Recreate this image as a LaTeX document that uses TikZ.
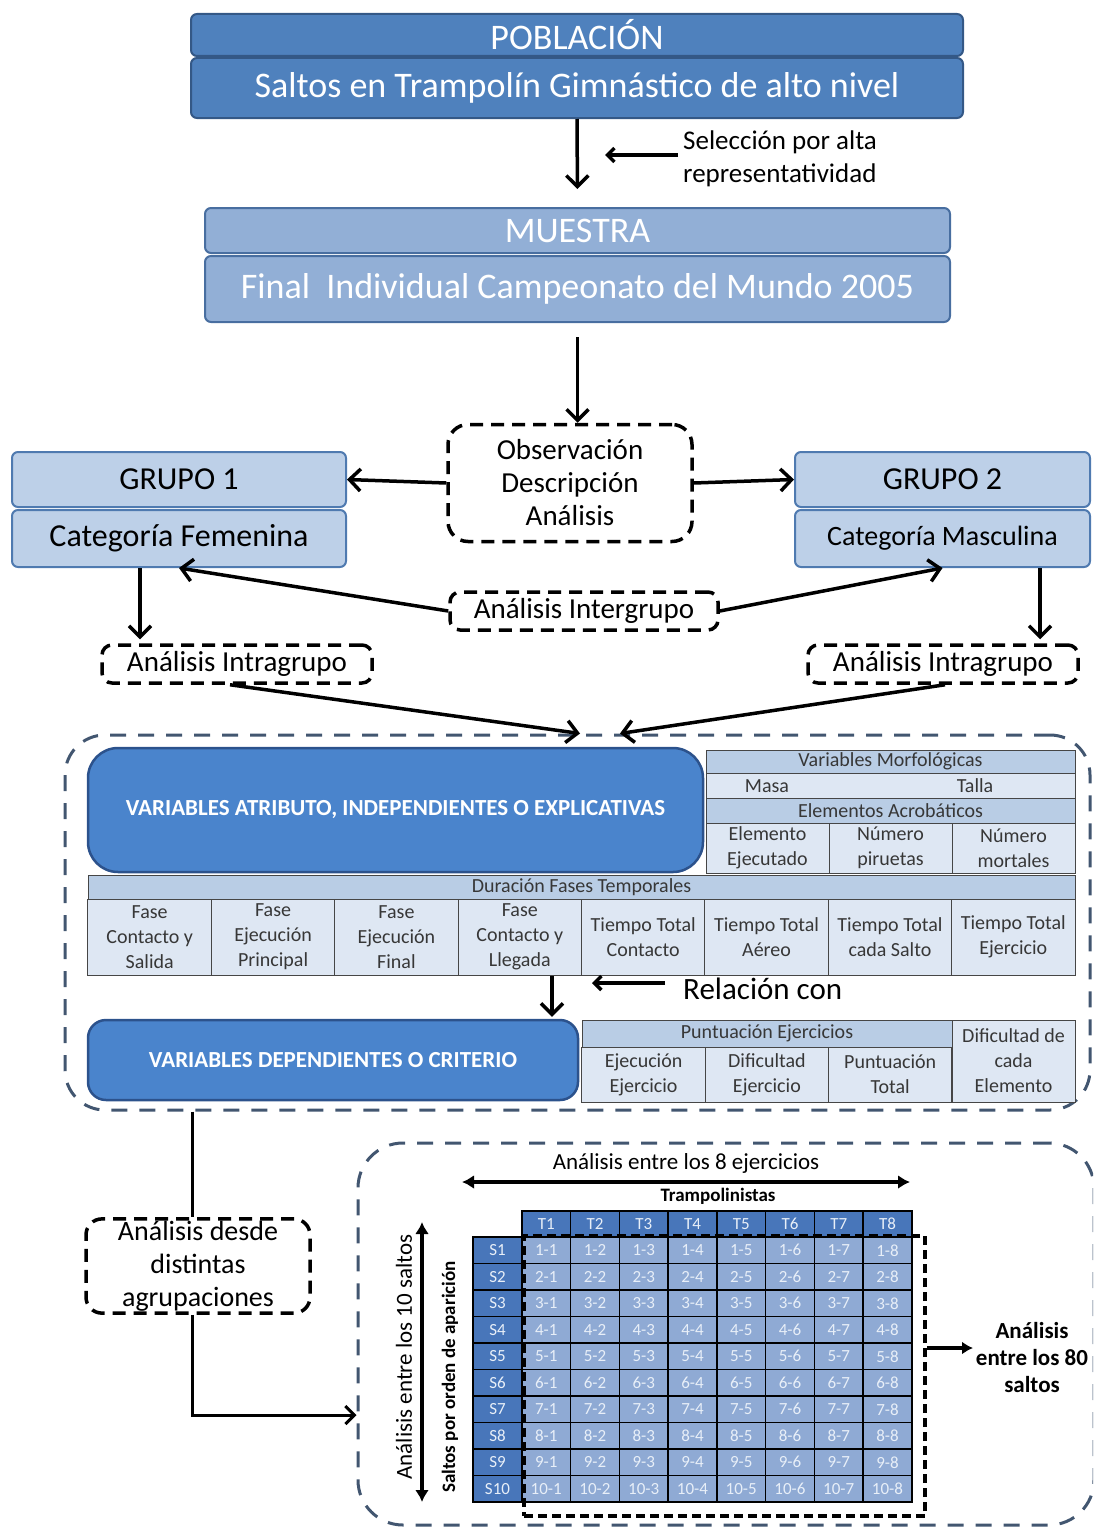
\documentclass[tikz,border=0pt]{standalone}
\usepackage{fontspec}
\setmainfont{Carlito}
\usetikzlibrary{arrows.meta}

\definecolor{popfill}{RGB}{79,129,189}
\definecolor{popedge}{RGB}{52,88,134}
\definecolor{muefill}{RGB}{146,175,214}
\definecolor{muedge}{RGB}{72,110,160}
\definecolor{grpfill}{RGB}{189,208,232}
\definecolor{grpedge}{RGB}{79,122,176}
\definecolor{varfill}{RGB}{74,132,204}
\definecolor{varedge}{RGB}{44,82,140}
\definecolor{headfill}{RGB}{185,205,229}
\definecolor{bodyfill}{RGB}{222,231,243}
\definecolor{tabline}{RGB}{70,70,70}
\definecolor{tabtext}{RGB}{55,55,55}
\definecolor{gridhead}{RGB}{72,118,186}
\definecolor{gridcell}{RGB}{143,170,212}
\definecolor{gridtext}{RGB}{232,239,248}
\definecolor{regline}{RGB}{66,86,112}

\tikzset{
  arr/.style={line width=3.5, -{Straight Barb[length=11pt,width=22pt]}},
  thinarr/.style={line width=3, -{Straight Barb[length=9pt,width=18pt]}},
  popbar/.style={draw=popedge, fill=popfill, line width=2, rounded corners=6,
    text=white, font=\fontsize{36}{40}\selectfont, minimum width=772, inner sep=2},
  muebar/.style={draw=muedge, fill=muefill, line width=2, rounded corners=6,
    text=white, font=\fontsize{36}{40}\selectfont, minimum width=745, inner sep=2},
  grpbar/.style={draw=grpedge, fill=grpfill, line width=2, rounded corners=6,
    text=black, font=\fontsize{32}{36}\selectfont, inner sep=2},
  dbox/.style={draw=black, line width=3.5, dash pattern=on 13pt off 8pt,
    rounded corners=10, font=\fontsize{29}{33}\selectfont, align=center, inner sep=2},
  region/.style={draw=regline, line width=3, dash pattern=on 16pt off 12pt, rounded corners=40},
  varbox/.style={draw=varedge, fill=varfill, line width=2.5, text=white,
    font=\bfseries\fontsize{23}{26}\selectfont},
  hcell/.style={draw=tabline, fill=headfill, line width=1, text=tabtext,
    font=\fontsize{20}{25}\selectfont, inner sep=1},
  tcell/.style={draw=tabline, fill=bodyfill, line width=1, text=tabtext,
    font=\fontsize{20}{25}\selectfont, align=center, inner sep=1, minimum width=123.4},
  thead/.style={draw=black, fill=gridhead, line width=1.5, text=gridtext,
    font=\fontsize{17}{18}\selectfont, minimum width=48.75, minimum height=26, inner sep=0},
  shead/.style={draw=black, fill=gridhead, line width=1.5, text=gridtext,
    font=\fontsize{17}{18}\selectfont, minimum width=49, minimum height=26.5, inner sep=0},
  gcell/.style={draw=black, fill=gridcell, line width=1.5, text=gridtext,
    font=\fontsize{17}{18}\selectfont, minimum width=48.75, minimum height=26.5, inner sep=0},
}

\begin{document}
\begin{tikzpicture}[x=1pt,y=-1pt]
\useasboundingbox (0,0) rectangle (1093,1528);
\clip (0,0) rectangle (1093,1528);

% poblacion y muestra
\node[popbar, minimum height=42] (pob) at (577,35) {POBLACIÓN};
\node[popbar, minimum height=60] (pobtxt) at (577,88) {Saltos en Trampolín Gimnástico de alto nivel};
\node[muebar, minimum height=45] (mue) at (577.5,230.5) {MUESTRA};
\node[muebar, minimum height=66] (muetxt) at (577.5,289) {Final\ \ Individual Campeonato del Mundo 2005};
\draw[arr, shorten >=18] (pobtxt) -- (mue);

\node[anchor=west, align=left, font=\fontsize{27}{33}\selectfont, inner sep=0] (sel) at (683,159)
  {Selección por alta\\representatividad};
\coordinate (selend) at (605,155);
\draw[line width=3.5, -{Straight Barb[length=7pt,width=14pt]}] (sel.west |- selend) ++(-5,0) -- (selend);

% grupos
\node[dbox, rounded corners=20, minimum width=244, minimum height=117] (obs) at (570,483)
  {Observación\\Descripción\\Análisis};
\draw[arr, shorten <=14] (muetxt.south) -- (muetxt.south |- obs.north);

\node[grpbar, minimum width=334, minimum height=55] (g1) at (179,479.5) {GRUPO 1};
\node[grpbar, minimum width=334, minimum height=57] (g1b) at (179,538.5) {Categoría Femenina};
\node[grpbar, minimum width=295, minimum height=55] (g2) at (942.5,479.5) {GRUPO 2};
\node[grpbar, minimum width=295, minimum height=57, font=\fontsize{28}{32}\selectfont] (g2b) at (942.5,538.5)
  {Categoría Masculina};
\draw[arr] (obs.west) -- (g1.east);
\draw[arr] (obs.east) -- (g2.west);

\node[dbox, minimum width=268, minimum height=38] (inter) at (584,611) {Análisis Intergrupo};
\draw[arr] (inter.west) -- (g1b.south);
\draw[arr] (inter.east) -- (g2b.south);

\node[dbox, minimum width=270, minimum height=38] (intra1) at (237,664) {Análisis Intragrupo};
\node[dbox, minimum width=270, minimum height=38] (intra2) at (943,664) {Análisis Intragrupo};
\draw[arr, shorten >=4] ([xshift=-39]g1b.south) -- ([xshift=-97]intra1.north);
\draw[arr, shorten >=4] ([xshift=97.5]g2b.south) -- ([xshift=97]intra2.north);

% variables
\node[region, minimum width=1025, minimum height=375] (reg) at (577.5,922.5) {};
\draw[arr] ([xshift=-7]intra1.south) -- ([xshift=2.5]reg.north);
\draw[arr] ([xshift=2]intra2.south) -- ([xshift=42.5]reg.north);

\node[varbox, rounded corners=30, minimum width=615, minimum height=124] (atrib) at (395.5,810)
  {VARIABLES ATRIBUTO, INDEPENDIENTES O EXPLICATIVAS};

\node[hcell, minimum width=369, minimum height=23] (morf) at (890.5,761.5) {Variables Morfológicas};
\node[tcell, minimum width=369, minimum height=25] (mt) at (890.5,785.5) {};
\node[text=tabtext, font=\fontsize{20}{25}\selectfont] (masa) at (767,786) {Masa};
\node[text=tabtext, font=\fontsize{20}{25}\selectfont] (talla) at (975,786) {Talla};
\node[hcell, minimum width=369, minimum height=25] (acro) at (890.5,810.5) {Elementos Acrobáticos};
\foreach \lab [count=\i] in {{Elemento\\Ejecutado},{Número\\piruetas},{Número\\mortales}}
  \node[tcell, minimum width=123, minimum height=50] (el\i) at (644.5+123*\i,848) {\lab};

\node[hcell, minimum width=987, minimum height=24] (dur) at (581.5,887) {Duración Fases Temporales};
\foreach \lab [count=\i] in {{Fase\\Contacto y\\Salida},{Fase\\Ejecución\\Principal},
    {Fase\\Ejecución\\Final},{Fase\\Contacto y\\Llegada},{Tiempo Total\\Contacto},
    {Tiempo Total\\Aéreo},{Tiempo Total\\cada Salto},{Tiempo Total\\Ejercicio}}
  \node[tcell, minimum height=76] (fa\i) at (26.3125+123.375*\i,937) {\lab};

\node[varbox, rounded corners=18, minimum width=490, minimum height=80] (dep) at (333,1060)
  {VARIABLES DEPENDIENTES O CRITERIO};
\coordinate (relTop) at (552,976);
\draw[arr, shorten >=2] (relTop) -- (relTop |- dep.north);
\node[anchor=west, font=\fontsize{31}{34}\selectfont, inner sep=0] (rel) at (683,989) {Relación con};
\coordinate (relend) at (592,983);
\draw[line width=3.5, -{Straight Barb[length=7pt,width=14pt]}] (rel.west |- relend) ++(-18,0) -- (relend);

\node[hcell, minimum width=370, minimum height=27] (punt) at (767,1033.5) {Puntuación Ejercicios};
\foreach \lab [count=\i] in {{Ejecución\\Ejercicio},{Dificultad\\Ejercicio},{Puntuación\\Total}}
  \node[tcell, minimum width=123.3, minimum height=55] (pu\i) at (520.3+123.3*\i,1074.5) {\lab};
\node[tcell, minimum width=123, minimum height=82] (dif) at (1013.5,1061) {Dificultad de\\cada\\Elemento};

% agrupaciones
\node[dbox, rounded corners=16, minimum width=224, minimum height=88, font=\fontsize{28}{33}\selectfont]
  (agr) at (198,1266) {Análisis desde\\distintas\\agrupaciones};
\node[region, rounded corners=45, minimum width=736, minimum height=382] (bot) at (726,1334) {};
\draw[line width=3] ([xshift=-385.5]reg.south) -- ([xshift=-6]agr.north);
\draw[thinarr] ([xshift=-6]agr.south) |- ([yshift=-81]bot.west);

% tabla de saltos
\node[font=\fontsize{23}{26}\selectfont] (ej8) at (686,1163) {Análisis entre los 8 ejercicios};
\coordinate (ejL) at (462,1182);
\coordinate (ejR) at (910,1182);
\draw[line width=3.5, {Latex[length=12pt,width=14pt]}-{Latex[length=12pt,width=14pt]}] (ejL) -- (ejR);
\node[font=\bfseries\fontsize{19}{20}\selectfont] (tramp) at (718,1196) {Trampolinistas};

\foreach \i in {1,...,8}
  \node[thead] (t\i) at (497.5+48.75*\i,1224) {T\i};
\foreach \j in {1,...,10} {
  \node[shead] (s\j) at (497.5,1223.75+26.5*\j) {S\j};
  \foreach \i in {1,...,8}
    \node[gcell] (c\j-\i) at (497.5+48.75*\i,1223.75+26.5*\j) {\j-\i};
}
\node[draw=black, line width=3.5, dash pattern=on 9pt off 5pt, minimum width=401, minimum height=280]
  (sel80) at (724.5,1376) {};
\node[align=center, font=\bfseries\fontsize{23}{27}\selectfont] (a80) at (1032,1357)
  {Análisis\\entre los 80\\saltos};
\coordinate (a80tip) at (973,1348);
\draw[line width=3.5, -{Latex[length=11pt,width=13pt]}] ([yshift=28]sel80.east) -- (a80tip);

\coordinate (saT) at (422,1222);
\coordinate (saB) at (422,1502);
\draw[line width=3.5, {Latex[length=12pt,width=14pt]}-{Latex[length=12pt,width=14pt]}] (saT) -- (saB);
\node[rotate=90, font=\fontsize{23}{26}\selectfont] (a10) at (404,1357) {Análisis entre los 10 saltos};
\node[rotate=90, font=\bfseries\fontsize{19}{20}\selectfont] (orden) at (450,1377)
  {Saltos por orden de aparición};
\end{tikzpicture}
\end{document}
